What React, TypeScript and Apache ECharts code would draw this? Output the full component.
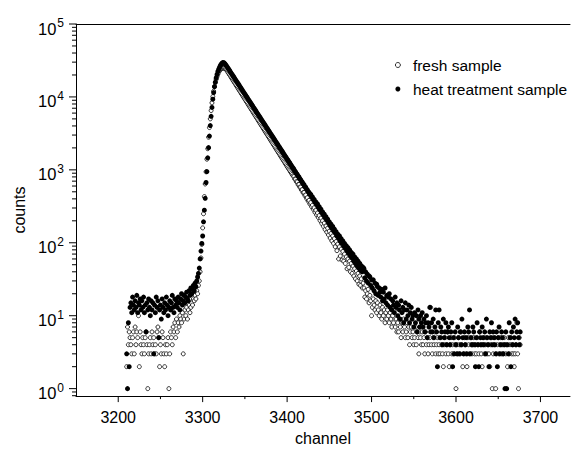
import React, { useEffect, useRef } from "react";
import * as echarts from "echarts";

const FONT = "'Liberation Sans', Arial, Helvetica, sans-serif";

// first channel of both spectra (one value per channel)
const startChannel = 3210;

// fresh sample (open circles), channels 3210..3676
const freshCounts = [
  2, 7, 4, 6, 5, 4, 3, 5, 6, 3, // 3210
  7, 4, 6, 5, 10, 2, 6, 4, 3, 5, // 3220
  4, 3, 5, 6, 4, 1, 3, 4, 5, 3, // 3230
  6, 4, 5, 3, 4, 3, 6, 7, 5, 2, // 3240
  4, 3, 6, 5, 3, 2, 4, 3, 4, 5, // 3250
  1, 3, 6, 5, 4, 7, 6, 8, 5, 9, // 3260
  6, 8, 7, 10, 9, 8, 11, 3, 9, 12, // 3270
  10, 13, 9, 12, 14, 11, 13, 15, 14, 17, // 3280
  16, 19, 17, 22, 20, 26, 30, 40, 62, 95, // 3290
  160, 250, 430, 640, 940, 1400, 1950, 2800, 3800, 5000, // 3300
  6500, 8300, 10100, 12000, 13900, 15700, 17400, 19000, 20500, 21800, // 3310
  22900, 23800, 24500, 24900, 25000, 24900, 24600, 24300, 23685, 22703, // 3320
  21762, 20859, 19994, 19165, 18371, 17609, 16879, 16178, 15508, 14865, // 3330
  14248, 13657, 13090, 12547, 12027, 11528, 11049, 10591, 10151, 9730, // 3340
  9326, 8939, 8568, 8213, 7872, 7545, 7232, 6932, 6644, 6368, // 3350
  6104, 5851, 5608, 5375, 5151, 4938, 4733, 4536, 4348, 4167, // 3360
  3995, 3828, 3669, 3517, 3371, 3231, 3096, 2968, 2845, 2727, // 3370
  2613, 2505, 2401, 2300, 2205, 2113, 2026, 1941, 1861, 1783, // 3380
  1709, 1639, 1570, 1505, 1442, 1383, 1325, 1270, 1217, 1166, // 3390
  1117, 1071, 1027, 984, 943, 904, 866, 830, 810, 748, // 3400
  745, 688, 684, 628, 630, 578, 580, 528, 534, 485, // 3410
  490, 444, 452, 405, 415, 372, 382, 340, 356, 312, // 3420
  328, 288, 302, 262, 280, 240, 256, 222, 236, 202, // 3430
  218, 184, 200, 168, 186, 152, 170, 140, 158, 128, // 3440
  144, 116, 134, 106, 124, 98, 114, 88, 104, 78, // 3450
  96, 60, 88, 66, 82, 58, 76, 56, 70, 52, // 3460
  64, 44, 60, 46, 56, 40, 52, 38, 48, 35, // 3470
  44, 32, 41, 30, 38, 27, 35, 26, 32, 24, // 3480
  28, 24, 18, 22, 17, 20, 23, 15, 19, 16, // 3490
  10, 13, 17, 14, 12, 16, 11, 15, 12, 10, // 3500
  14, 11, 9, 13, 10, 12, 8, 11, 9, 12, // 3510
  10, 8, 11, 9, 7, 10, 8, 12, 7, 9, // 3520
  6, 8, 6, 9, 7, 5, 8, 6, 9, 7, // 3530
  5, 6, 8, 5, 7, 4, 6, 7, 5, 6, // 3540
  4, 5, 7, 4, 6, 5, 3, 6, 5, 4, // 3550
  6, 4, 5, 3, 6, 4, 5, 3, 4, 5, // 3560
  13, 4, 3, 5, 4, 6, 3, 4, 5, 3, // 3570
  4, 3, 5, 4, 3, 2, 4, 5, 3, 4, // 3580
  6, 3, 2, 4, 5, 3, 4, 3, 5, 4, // 3590
  1, 4, 3, 5, 4, 3, 6, 4, 2, 3, // 3600
  5, 4, 3, 2, 5, 4, 3, 5, 4, 3, // 3610
  4, 5, 3, 4, 3, 5, 4, 3, 6, 4, // 3620
  3, 2, 4, 5, 3, 4, 5, 3, 4, 3, // 3630
  2, 4, 5, 1, 3, 4, 5, 1, 3, 4, // 3640
  5, 3, 4, 5, 3, 4, 3, 5, 4, 3, // 3650
  4, 2, 5, 3, 4, 5, 3, 4, 3, 2, // 3660
  3, 4, 8, 3, 1, 5, 4, // 3670
];

// heat treatment sample (filled circles), channels 3210..3676
const heatCounts = [
  3, 1, 8, 2, 13, 15, 11, 18, 14, 12, // 3210
  16, 13, 19, 11, 15, 14, 17, 12, 16, 13, // 3220
  18, 11, 14, 6, 15, 12, 17, 13, 10, 16, // 3230
  12, 15, 3, 14, 11, 18, 13, 16, 5, 12, // 3240
  14, 9, 17, 13, 11, 15, 12, 18, 14, 10, // 3250
  13, 16, 12, 15, 19, 13, 11, 17, 14, 16, // 3260
  13, 18, 15, 12, 17, 20, 14, 16, 19, 15, // 3270
  18, 21, 17, 16, 22, 19, 24, 20, 23, 26, // 3280
  22, 28, 25, 30, 34, 38, 45, 60, 77, 98, // 3290
  124, 194, 280, 407, 670, 946, 1463, 2017, 2906, 4050, // 3300
  5420, 7180, 9310, 11480, 13840, 16000, 18200, 20300, 22300, 24000, // 3310
  25600, 27000, 28200, 29100, 29600, 29500, 28900, 28000, 26900, 25850, // 3320
  24780, 23820, 22830, 21940, 21030, 20220, 19380, 18620, 17860, 17160, // 3330
  16450, 15810, 15150, 14570, 13960, 13420, 12860, 12360, 11850, 11390, // 3340
  10920, 10490, 10060, 9670, 9270, 8910, 8540, 8210, 7870, 7560, // 3350
  7250, 6970, 6680, 6420, 6150, 5910, 5670, 5450, 5230, 5010, // 3360
  4820, 4620, 4440, 4250, 4090, 3920, 3770, 3610, 3470, 3330, // 3370
  3190, 3070, 2940, 2830, 2710, 2610, 2500, 2400, 2300, 2215, // 3380
  2120, 2040, 1950, 1880, 1800, 1730, 1660, 1590, 1530, 1470, // 3390
  1405, 1355, 1295, 1250, 1195, 1150, 1100, 1060, 1020, 970, // 3400
  940, 892, 866, 822, 798, 758, 736, 698, 680, 642, // 3410
  628, 590, 578, 545, 532, 500, 492, 460, 462, 428, // 3420
  426, 392, 394, 358, 364, 333, 340, 305, 312, 284, // 3430
  290, 259, 266, 240, 246, 221, 228, 204, 210, 188, // 3440
  194, 171, 180, 158, 167, 146, 154, 137, 142, 124, // 3450
  131, 115, 124, 105, 114, 98, 106, 90, 98, 84, // 3460
  91, 77, 86, 72, 80, 66, 74, 62, 70, 56, // 3470
  64, 52, 60, 48, 56, 45, 52, 42, 48, 40, // 3480
  46, 44, 33, 40, 30, 37, 28, 35, 34, 26, // 3490
  31, 24, 31, 22, 28, 20, 27, 25, 19, 24, // 3500
  21, 18, 23, 16, 21, 17, 24, 15, 19, 14, // 3510
  18, 20, 13, 17, 12, 16, 14, 11, 18, 13, // 3520
  15, 10, 14, 12, 9, 16, 11, 13, 8, 12, // 3530
  15, 9, 12, 10, 14, 8, 11, 13, 9, 10, // 3540
  7, 11, 8, 10, 6, 12, 9, 7, 10, 8, // 3550
  11, 7, 9, 6, 8, 10, 5, 8, 7, 13, // 3560
  6, 8, 6, 9, 5, 7, 12, 6, 2, 8, // 3570
  12, 5, 7, 6, 4, 9, 5, 6, 8, 4, // 3580
  6, 7, 5, 4, 6, 8, 2, 5, 3, 6, // 3590
  4, 3, 7, 5, 3, 6, 4, 9, 5, 3, // 3600
  6, 4, 5, 3, 7, 6, 12, 3, 5, 4, // 3610
  7, 6, 4, 2, 5, 8, 4, 2, 6, 5, // 3620
  4, 7, 5, 4, 6, 3, 9, 5, 4, 2, // 3630
  6, 5, 8, 4, 6, 5, 4, 3, 6, 2, // 3640
  5, 7, 3, 4, 6, 5, 3, 4, 1, 6, // 3650
  1, 4, 3, 8, 5, 2, 6, 4, 7, 5, // 3660
  9, 4, 6, 8, 5, 4, 6, // 3670
];

const seriesNames = ["fresh sample", "heat treatment sample"];

// axis ranges and tick positions
const xRange = [3150, 3735];
const yRange = [0.79, 100000];
const xMajorTicks = [3200, 3300, 3400, 3500, 3600, 3700];
const xMinorTicks = [3250, 3350, 3450, 3550, 3650];
const yMajorTicks = [1, 10, 100, 1000, 10000, 100000];
const yMinorTicks = [
  0.8, 0.9,
  2, 3, 4, 5, 6, 7, 8, 9,
  20, 30, 40, 50, 60, 70, 80, 90,
  200, 300, 400, 500, 600, 700, 800, 900,
  2000, 3000, 4000, 5000, 6000, 7000, 8000, 9000,
  20000, 30000, 40000, 50000, 60000, 70000, 80000, 90000,
];

export default function App() {
  const ref = useRef<HTMLDivElement>(null);

  useEffect(() => {
    if (!ref.current) return;
    const chart = echarts.init(ref.current, null, { renderer: "svg" });

    const toPoints = (arr: number[]) => arr.map((c, i) => [startChannel + i, c]);
    const tickData = [
      ...xMajorTicks.map((v) => [v, yRange[0], 0]),
      ...xMinorTicks.map((v) => [v, yRange[0], 1]),
      ...yMajorTicks.map((v) => [xRange[0], v, 2]),
      ...yMinorTicks.map((v) => [xRange[0], v, 3]),
    ];
    const tickLen = [6, 3, 7, 4];

    const option: any = {
      animation: false,
      backgroundColor: "#ffffff",
      textStyle: { fontFamily: FONT, color: "#000" },
      grid: { left: 76, right: 0, top: 24, bottom: 51, containLabel: false },
      legend: {
        orient: "vertical",
        left: 390,
        top: 52,
        itemWidth: 20,
        itemHeight: 5,
        itemGap: 8,
        selectedMode: false,
        textStyle: { fontFamily: FONT, fontSize: 15.5, color: "#000" },
        data: [
          { name: seriesNames[0], icon: "circle", itemStyle: { color: "#fff", borderColor: "#000", borderWidth: 0.8 } },
          { name: seriesNames[1], icon: "circle", itemStyle: { color: "#000", borderWidth: 0 } },
        ],
      },
      xAxis: [
        {
          type: "value",
          min: xRange[0],
          max: xRange[1],
          position: "bottom",
          name: "channel",
          nameLocation: "middle",
          nameGap: 28,
          nameTextStyle: { fontFamily: FONT, fontSize: 16, color: "#000" },
          axisLine: { show: true, onZero: false, lineStyle: { color: "#000", width: 1 } },
          axisTick: { show: false },
          splitLine: { show: false },
          interval: 50,
          axisLabel: {
            margin: 13,
            align: "center",
            verticalAlign: "top",
            fontFamily: FONT,
            fontSize: 16,
            color: "#000",
            formatter: (v: number) => (v % 100 === 0 && v >= 3200 && v <= 3700 ? String(v) : ""),
          },
        },
        {
          type: "value",
          min: xRange[0],
          max: xRange[1],
          position: "top",
          axisLine: { show: true, onZero: false, lineStyle: { color: "#000", width: 1 } },
          axisTick: { show: false },
          axisLabel: { show: false },
          splitLine: { show: false },
        },
      ],
      yAxis: {
        type: "log",
        logBase: 10,
        min: yRange[0],
        max: yRange[1],
        name: "counts",
        nameLocation: "middle",
        nameGap: 46,
        nameTextStyle: { fontFamily: FONT, fontSize: 16, color: "#000" },
        axisLine: { show: true, onZero: false, lineStyle: { color: "#000", width: 1 } },
        axisTick: { show: false },
        splitLine: { show: false },
        minorTick: { show: false },
        axisLabel: {
          margin: 12,
          formatter: (v: number) => {
            const l = Math.log10(v);
            const e = Math.round(l);
            if (Math.abs(l - e) > 1e-6) return "";
            return `{b|10}{s|${e}}`;
          },
          rich: {
            b: { fontFamily: FONT, fontSize: 16.5, color: "#000", lineHeight: 18, padding: [5, 0, 0, 0], verticalAlign: "top" },
            s: { fontFamily: FONT, fontSize: 12, color: "#000", lineHeight: 12, padding: [2, 0, 0, 1], verticalAlign: "top" },
          },
        },
      },
      series: [
        {
          name: seriesNames[0],
          type: "scatter",
          symbol: "circle",
          symbolSize: 4,
          itemStyle: { color: "#fff", borderColor: "#000", borderWidth: 0.8, opacity: 1 },
          data: toPoints(freshCounts),
          z: 2,
        },
        {
          name: seriesNames[1],
          type: "scatter",
          symbol: "circle",
          symbolSize: 5,
          itemStyle: { color: "#000", opacity: 1 },
          data: toPoints(heatCounts),
          z: 3,
        },
        {
          name: "ticks",
          type: "custom",
          silent: true,
          clip: false,
          z: 10,
          data: tickData,
          renderItem: (_params: any, api: any) => {
            const kind = api.value(2);
            const p = api.coord([api.value(0), api.value(1)]);
            const len = tickLen[kind];
            const shape =
              kind < 2
                ? { x1: p[0], y1: p[1], x2: p[0], y2: p[1] + len }
                : { x1: p[0] - len, y1: p[1], x2: p[0], y2: p[1] };
            return { type: "line", shape, style: { stroke: "#000", lineWidth: 1 } };
          },
        },
      ],
    };

    chart.setOption(option);
    return () => chart.dispose();
  }, []);

  return (
    <div
      ref={ref}
      style={{ position: "absolute", left: 0, top: 0, width: 573, height: 451, background: "#fff" }}
    />
  );
}
